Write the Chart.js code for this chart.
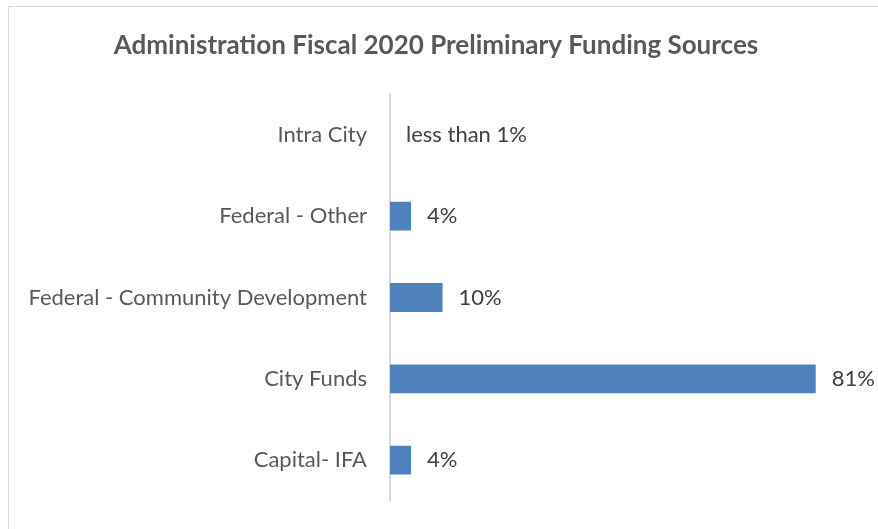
<!DOCTYPE html>
<html>
<head>
<meta charset="utf-8">
<script src="https://cdn.jsdelivr.net/npm/chart.js@4/dist/chart.umd.min.js"></script>
<style>
  html, body { margin: 0; padding: 0; overflow: hidden; background: #fff; }
  #frame {
    position: absolute; left: 8px; top: 6px;
    width: 900px; height: 540px;
    border: 1px solid #d9d9d9;
  }
  #wrap { width: 869px; height: 522px; }
</style>
</head>
<body>
<div id="frame">
  <div id="wrap"><canvas id="fundingChart"></canvas></div>
</div>
<script>
// Funding sources, share of total (%) - Intra City is under 1%, too thin to show
const sources = ["Intra City", "Federal - Other", "Federal - Community Development", "City Funds", "Capital- IFA"];
const shares = [0, 4, 10, 81, 4];
const shareLabels = ["less than 1%", "4%", "10%", "81%", "4%"];

const FONT = "Lato, sans-serif";

// write the value label just past the end of each bar
const barValueLabels = {
  id: "barValueLabels",
  afterDatasetsDraw(chart) {
    const ctx = chart.ctx;
    const meta = chart.getDatasetMeta(0);
    ctx.save();
    ctx.font = "22px " + FONT;
    ctx.fillStyle = "#404040";
    ctx.textAlign = "left";
    ctx.textBaseline = "middle";
    meta.data.forEach((bar, i) => {
      ctx.fillText(shareLabels[i], bar.x + 16, bar.y);
    });
    ctx.restore();
  },
};

new Chart(document.getElementById("fundingChart"), {
  type: "bar",
  data: {
    labels: sources,
    datasets: [
      {
        data: shares,
        backgroundColor: "#4f81bd",
        borderWidth: 0,
        categoryPercentage: 1,
        barPercentage: 0.355,
      },
    ],
  },
  options: {
    indexAxis: "y",
    responsive: true,
    maintainAspectRatio: false,
    animation: false,
    layout: { padding: { top: 0, right: 15, bottom: 10, left: 0 } },
    plugins: {
      legend: { display: false },
      tooltip: { enabled: false },
      title: {
        display: true,
        text: "Administration Fiscal 2020 Preliminary Funding Sources",
        color: "#595959",
        font: { family: FONT, size: 26, weight: "bold", lineHeight: 1.2 },
        padding: { top: 23, bottom: 33 },
      },
    },
    scales: {
      x: { display: false, min: 0, max: 90 },
      y: {
        afterFit: (scale) => { scale.width = 381; },
        grid: { display: false },
        border: { display: true, color: "#d9d9d9", width: 2 },
        ticks: {
          color: "#595959",
          padding: 15,
          font: { family: FONT, size: 22 },
        },
      },
    },
  },
  plugins: [barValueLabels],
});
</script>
</body>
</html>
